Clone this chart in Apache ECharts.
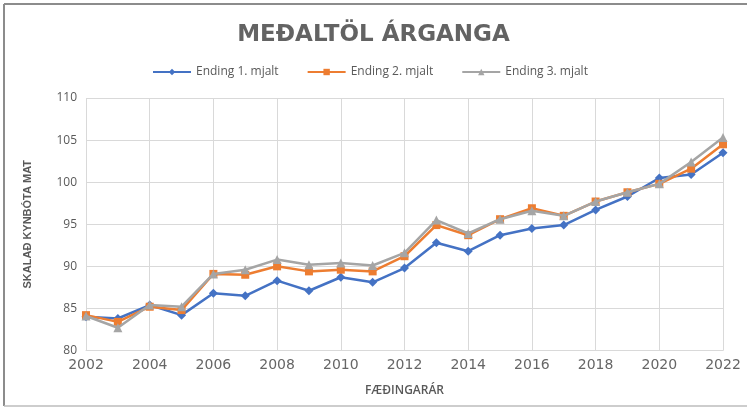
<!DOCTYPE html>
<html>
<head>
<meta charset="utf-8">
<script src="https://cdn.jsdelivr.net/npm/echarts@6/dist/echarts.min.js"></script>
<style>
html,body{margin:0;padding:0;background:#fff;}
#chart{width:747px;height:408px;}
</style>
</head>
<body>
<div id="chart"></div>
<script>
const years = [2002,2003,2004,2005,2006,2007,2008,2009,2010,2011,2012,2013,2014,2015,2016,2017,2018,2019,2020,2021,2022];
const ending1 = [84.0,83.8,85.4,84.2,86.8,86.5,88.3,87.1,88.7,88.1,89.8,92.8,91.8,93.7,94.5,94.9,96.7,98.3,100.5,100.9,103.5];
const ending2 = [84.2,83.4,85.2,84.8,89.1,89.0,90.0,89.4,89.6,89.4,91.2,94.9,93.7,95.6,96.9,96.0,97.7,98.8,99.8,101.6,104.5];
const ending3 = [84.1,82.7,85.4,85.2,89.1,89.6,90.8,90.2,90.4,90.1,91.6,95.5,93.9,95.6,96.6,96.0,97.7,98.8,99.8,102.4,105.3];
const seriesNames = ['Ending 1. mjalt','Ending 2. mjalt','Ending 3. mjalt'];
const titleText = 'MEÐALTÖL ÁRGANGA';
const xTitle = 'FÆÐINGARÁR';
const yTitle = 'SKALAÐ KYNBÓTA MAT';

const colors = ['#4472C4','#ED7D31','#A5A5A5'];
const symbols = ['diamond','rect','triangle'];
const symbolSizes = [9,8,9];
const allData = [ending1, ending2, ending3];

const chart = echarts.init(document.getElementById('chart'));
const txt = '#595959';
chart.setOption({
  animation:false,
  backgroundColor:'#fff',
  title:{
    text:titleText,
    left:'center',
    top:19,
    textStyle:{fontFamily:'DejaVu Sans',fontSize:23,fontWeight:'bold',color:'#636363'}
  },
  legend:{
    top:61,
    left:147,
    itemWidth:38,
    itemHeight:8,
    itemGap:28,
    textStyle:{fontFamily:'Open Sans',fontSize:12,color:txt},
    data:seriesNames
  },
  grid:{left:86,right:24,top:98,bottom:57.5,containLabel:false},
  xAxis:{
    type:'value',
    min:2002,max:2022,interval:2,
    name:xTitle,
    nameLocation:'middle',
    nameGap:34,
    nameTextStyle:{fontFamily:'Open Sans',fontSize:12,fontWeight:600,color:txt},
    axisLine:{show:true,lineStyle:{color:'#d9d9d9',width:1}},
    axisTick:{show:false},
    axisLabel:{margin:8,fontFamily:'DejaVu Sans',fontSize:14,color:'#666',formatter:v=>String(v)},
    splitLine:{show:true,lineStyle:{color:'#d9d9d9',width:1}}
  },
  yAxis:{
    type:'value',
    min:80,max:110,interval:5,
    name:yTitle,
    nameLocation:'middle',
    nameRotate:90,
    nameGap:53,
    nameTextStyle:{fontFamily:'Liberation Sans Narrow, Liberation Sans',fontSize:11,fontWeight:'bold',color:txt},
    axisLine:{show:false},
    axisTick:{show:false},
    axisLabel:{margin:9,fontFamily:'Open Sans',fontSize:12,color:txt},
    splitLine:{show:true,lineStyle:{color:'#d9d9d9',width:1}}
  },
  series: seriesNames.map((n,k)=>({
    name:n,
    type:'line',
    data:years.map((y,i)=>[y, allData[k][i]]),
    symbol:symbols[k],
    symbolSize:symbolSizes[k],
    showAllSymbol:true,
    lineStyle:{color:colors[k],width:2.5},
    itemStyle:{color:colors[k]},
    z:2+k
  })),
  graphic:[
    {type:'line',shape:{x1:4,y1:4,x2:747,y2:4},style:{stroke:'#8c8c8c',lineWidth:2},silent:true},
    {type:'line',shape:{x1:4,y1:4,x2:4,y2:406},style:{stroke:'#8c8c8c',lineWidth:2},silent:true},
    {type:'line',shape:{x1:4,y1:406,x2:747,y2:406},style:{stroke:'#bdbdbd',lineWidth:1.5},silent:true}
  ]
});
</script>
</body>
</html>
